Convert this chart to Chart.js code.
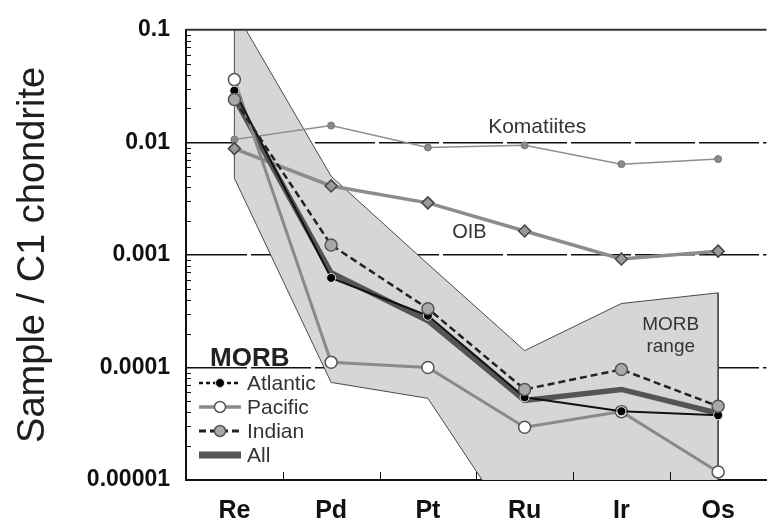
<!DOCTYPE html>
<html>
<head>
<meta charset="utf-8">
<script src="https://cdn.jsdelivr.net/npm/chart.js@4.4.1/dist/chart.umd.min.js"></script>
<style>
  html, body { margin: 0; padding: 0; overflow: hidden; background: #fff; }
  #wrap { position: absolute; left: 0; top: 0; width: 774px; height: 530px; }
</style>
</head>
<body>
<div id="wrap"><canvas id="chart"></canvas></div>
<script>
// Elements on the x axis
const categories = ['Re', 'Pd', 'Pt', 'Ru', 'Ir', 'Os'];

// Sample / C1 chondrite values
const komatiites = [0.0106, 0.0141, 0.0090, 0.0094, 0.0064, 0.0071];
const oib = [0.0088, 0.0041, 0.0029, 0.00163, 0.00092, 0.00108];
const atlantic = [0.0288, 0.000625, 0.000288, 0.0000543, 0.0000408, 0.0000376];
const pacific = [0.0361, 0.000111, 0.000100, 0.0000294, 0.0000405, 0.0000118];
const indian = [0.0240, 0.001225, 0.000333, 0.0000638, 0.0000959, 0.0000452];
const morbAll = [0.0250, 0.000693, 0.000260, 0.0000510, 0.0000638, 0.0000392];

// MORB range envelope
const rangeUpper = [0.15, 0.0050, 0.00083, 0.000141, 0.00037, 0.00046];
const rangeLower = [0.0048, 0.0000736, 0.0000532, 0.0000027, 0.000001, 0.000001];

// y axis ticks
const yTicks = [0.00001, 0.0001, 0.001, 0.01, 0.1];
const yTickLabels = ['0.00001', '0.0001', '0.001', '0.01', '0.1'];

const FONT = "'Liberation Sans', Arial, Helvetica, sans-serif";

// closed outline of the range polygon
const outline = categories.map((c, i) => ({ x: c, y: rangeUpper[i] }))
    .concat(categories.map((c, i) => ({ x: c, y: rangeLower[i] })).reverse());
outline.push({ x: categories[0], y: rangeUpper[0] });

const datasets = [
    { label: 'range-upper', data: rangeUpper, fill: '+1', backgroundColor: '#d6d6d6', borderWidth: 0, pointRadius: 0, clip: 0, order: 9 },
    { label: 'range-lower', data: rangeLower, fill: false, borderWidth: 0, pointRadius: 0, clip: 0, order: 8 },
    { label: 'MORB range', data: outline, fill: false, borderColor: '#4a4a4a', borderWidth: 1, pointRadius: 0, clip: 0, order: 7 },
    { label: 'Komatiites', data: komatiites, borderColor: '#8f8f8f', borderWidth: 1.5, pointRadius: 3.5,
      pointBackgroundColor: '#8a8a8a', pointBorderColor: '#777', pointBorderWidth: 1, order: 6 },
    { label: 'OIB', data: oib, borderColor: '#8c8c8c', borderWidth: 3.5, pointStyle: 'rectRot', pointRadius: 6,
      pointBackgroundColor: '#9a9a9a', pointBorderColor: '#444', pointBorderWidth: 1.5, order: 5 },
    { label: 'All', data: morbAll, borderColor: '#555', borderWidth: 5.5, pointRadius: 0, order: 4 },
    { label: 'Pacific', data: pacific, borderColor: '#8a8a8a', borderWidth: 3, pointRadius: 6,
      pointBackgroundColor: '#fff', pointBorderColor: '#555', pointBorderWidth: 1.5, order: 3 },
    { label: 'Atlantic', data: atlantic, borderColor: '#111', borderWidth: 2, pointRadius: 4.5,
      pointBackgroundColor: '#000', pointBorderColor: '#e0e0e0', pointBorderWidth: 1, order: 2, legendDash: [4, 3] },
    { label: 'Indian', data: indian, borderColor: '#222', borderWidth: 2.5, borderDash: [7, 4], pointRadius: 6,
      pointBackgroundColor: '#a8a8a8', pointBorderColor: '#555', pointBorderWidth: 1.5, order: 1 }
];

// extra drawing: top frame, inner minor ticks, text labels and the MORB legend
const extras = {
    id: 'extras',
    afterDatasetsDraw(chart) {
        const { ctx, chartArea: a, scales: { x, y } } = chart;
        ctx.save();
        ctx.strokeStyle = '#333';
        ctx.lineWidth = 2;
        ctx.beginPath();
        ctx.moveTo(a.left, a.top);
        ctx.lineTo(a.right, a.top);
        ctx.stroke();

        ctx.strokeStyle = '#111';
        ctx.lineWidth = 1;
        ctx.beginPath();
        for (let e = -5; e < -1; e++) {
            for (let m = 2; m <= 9; m++) {
                const py = Math.round(y.getPixelForValue(m * Math.pow(10, e))) + 0.5;
                ctx.moveTo(a.left, py);
                ctx.lineTo(a.left + 5, py);
            }
        }
        for (let i = 1; i < categories.length; i++) {
            const px = Math.round(x.getPixelForValue(i - 0.5)) + 0.5;
            ctx.moveTo(px, a.bottom);
            ctx.lineTo(px, a.bottom - 8);
        }
        ctx.stroke();

        // labels in the plot
        ctx.fillStyle = '#333';
        ctx.textAlign = 'center';
        ctx.textBaseline = 'middle';
        ctx.font = '21px ' + FONT;
        ctx.fillText('Komatiites', x.getPixelForValue(3.13), y.getPixelForValue(0.0136));
        ctx.font = '20px ' + FONT;
        ctx.fillText('OIB', x.getPixelForValue(2.43), y.getPixelForValue(0.00157));
        ctx.font = '19px ' + FONT;
        ctx.fillText('MORB', x.getPixelForValue(4.51), y.getPixelForValue(0.00024));
        ctx.fillText('range', x.getPixelForValue(4.51), y.getPixelForValue(0.000152));

        // MORB legend
        ctx.textAlign = 'left';
        ctx.fillStyle = '#222';
        ctx.font = 'bold 26px ' + FONT;
        ctx.textBaseline = 'alphabetic';
        ctx.fillText('MORB', a.left + 24, a.bottom - 114);
        const names = ['Atlantic', 'Pacific', 'Indian', 'All'];
        names.forEach((name, k) => {
            const ds = datasets.find(d => d.label === name);
            const cy = a.bottom - 97 + k * 24;
            const x0 = a.left + 13, x1 = a.left + 55;
            ctx.save();
            ctx.strokeStyle = ds.borderColor;
            ctx.lineWidth = name === 'All' ? 7 : ds.borderWidth + 0.5;
            ctx.setLineDash(ds.legendDash || ds.borderDash || []);
            ctx.beginPath();
            ctx.moveTo(x0, cy);
            ctx.lineTo(x1, cy);
            ctx.stroke();
            ctx.restore();
            if (ds.pointRadius) {
                ctx.fillStyle = ds.pointBackgroundColor;
                ctx.strokeStyle = ds.pointBorderColor;
                ctx.lineWidth = ds.pointBorderWidth;
                Chart.helpers.drawPoint(ctx, { pointStyle: 'circle', radius: Math.max(ds.pointRadius - 0.5, 4.5), borderWidth: ds.pointBorderWidth, rotation: 0 }, (x0 + x1) / 2, cy);
            }
            ctx.fillStyle = '#333';
            ctx.font = '21px ' + FONT;
            ctx.textBaseline = 'middle';
            ctx.fillText(name, a.left + 61, cy + 1);
        });
        ctx.restore();
    }
};

new Chart(document.getElementById('chart').getContext('2d'), {
    type: 'line',
    data: { labels: categories, datasets: datasets },
    options: {
        responsive: true,
        maintainAspectRatio: false,
        animation: false,
        devicePixelRatio: 1,
        layout: { padding: { top: 28, left: 0, right: 0, bottom: 0 } },
        plugins: { legend: { display: false }, tooltip: { enabled: false } },
        scales: {
            x: {
                type: 'category',
                offset: true,
                grid: { display: false },
                border: { display: true, color: '#111', width: 2 },
                ticks: { color: '#111', padding: 8, font: { family: FONT, size: 25, weight: 'bold' } },
                afterFit(s) { s.height = 50; }
            },
            y: {
                type: 'logarithmic',
                min: 0.00001,
                max: 0.1,
                afterBuildTicks(s) { s.ticks = yTicks.map(v => ({ value: v })); },
                grid: {
                    drawTicks: false,
                    lineWidth: 1.5,
                    color: c => (c.tick && c.tick.value === 0.1) ? 'rgba(0,0,0,0)' : '#111'
                },
                border: { display: true, color: '#111', width: 2, dash: [60, 4] },
                ticks: {
                    color: '#111',
                    padding: 16,
                    font: { family: FONT, size: 23, weight: 'bold' },
                    callback: (v, i) => yTickLabels[i]
                },
                title: {
                    display: true,
                    text: 'Sample / C1 chondrite',
                    color: '#1e1e1e',
                    font: { family: FONT, size: 38 },
                    padding: { top: 11, bottom: 0 }
                },
                afterFit(s) { s.width = 186; }
            }
        }
    },
    plugins: [extras]
});
</script>
</body>
</html>
